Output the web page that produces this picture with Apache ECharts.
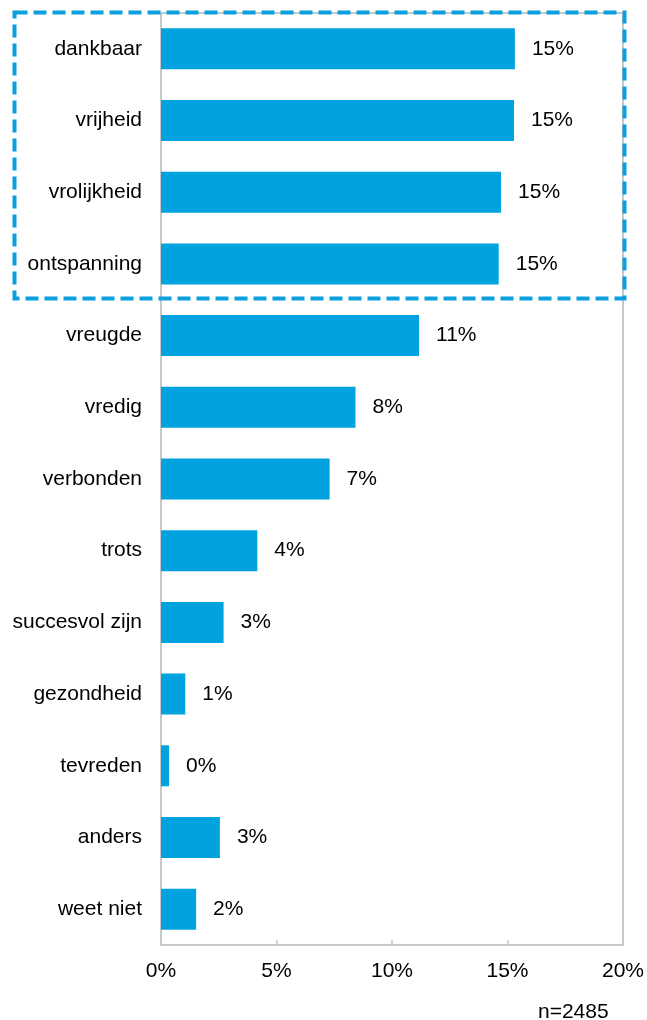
<!DOCTYPE html>
<html>
<head>
<meta charset="utf-8">
<script src="https://cdn.jsdelivr.net/npm/echarts@6/dist/echarts.min.js"></script>
<style>
html,body{margin:0;padding:0;background:#fff;}
#chart{width:647px;height:1020px;}
</style>
</head>
<body>
<div id="chart"></div>
<script>
var categories = ['dankbaar','vrijheid','vrolijkheid','ontspanning','vreugde','vredig','verbonden','trots','succesvol zijn','gezondheid','tevreden','anders','weet niet'];
var values = [15.32, 15.28, 14.72, 14.62, 11.17, 8.42, 7.30, 4.17, 2.71, 1.05, 0.35, 2.55, 1.52];
var xTicks = [0, 5, 10, 15, 20];
var sampleNote = 'n=2485';

var FONT = '"Liberation Sans", Arial, sans-serif';
var chart = echarts.init(document.getElementById('chart'));
chart.setOption({
  animation: false,
  backgroundColor: '#fff',
  grid: {
    left: 161, right: 23, top: 13, bottom: 75,
    show: true, borderColor: '#c8c8c8', borderWidth: 2, backgroundColor: 'transparent'
  },
  xAxis: {
    type: 'value',
    min: xTicks[0], max: xTicks[xTicks.length - 1], interval: 5,
    axisLine: { show: true, lineStyle: { color: '#c8c8c8', width: 2 } },
    axisTick: { show: true, inside: true, length: 5, lineStyle: { color: '#c8c8c8', width: 1.5 } },
    splitLine: { show: false },
    axisLabel: { formatter: '{value}%', color: '#000', fontSize: 21, fontFamily: FONT, margin: 16 }
  },
  yAxis: {
    type: 'category',
    data: categories,
    inverse: true,
    axisLine: { show: true, lineStyle: { color: '#c8c8c8', width: 2 } },
    axisTick: { show: false },
    axisLabel: { color: '#000', fontSize: 21, fontFamily: FONT, margin: 19 }
  },
  series: [{
    type: 'bar',
    data: values,
    barWidth: 41,
    itemStyle: { color: '#00A2DF' },
    label: {
      show: true, position: 'right', distance: 17,
      color: '#000', fontSize: 21, fontFamily: FONT,
      formatter: function (p) { return Math.round(p.value) + '%'; }
    }
  }],
  graphic: [
    {
      type: 'rect', z: 100,
      shape: { x: 14.5, y: 12.5, width: 610, height: 286 },
      style: { fill: 'none', stroke: '#0AA0DF', lineWidth: 4, lineDash: [13, 6] }
    },
    {
      type: 'text', z: 100, left: 538, top: 1002,
      style: { text: sampleNote, fill: '#000', font: '21px ' + FONT }
    }
  ]
});
</script>
</body>
</html>
